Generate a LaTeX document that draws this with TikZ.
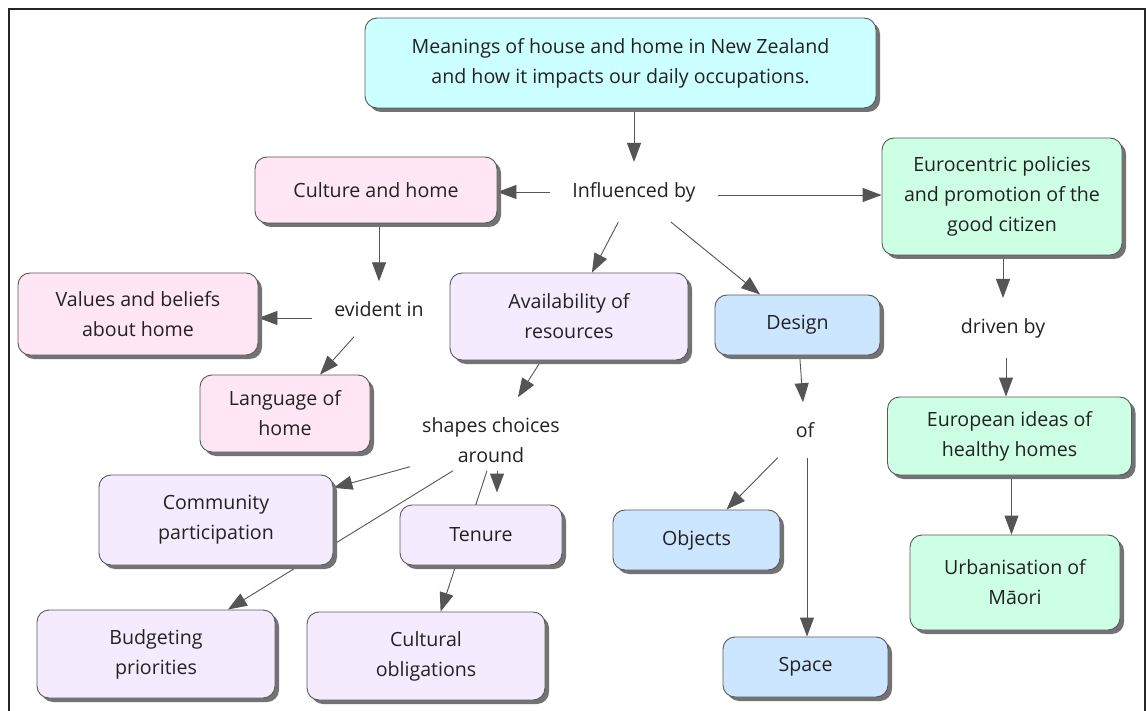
\documentclass[tikz,border=0pt]{standalone}
\usepackage{fontspec}
\setmainfont{Open Sans}
\usetikzlibrary{arrows.meta,shadows,calc}
\pgfdeclarelayer{paper}
\pgfdeclarelayer{background}
\pgfsetlayers{paper,background,main}
\definecolor{cyanbox}{HTML}{CCFFFF}
\definecolor{pinkbox}{HTML}{FFE6F4}
\definecolor{lavbox}{HTML}{F4ECFE}
\definecolor{bluebox}{HTML}{CCE6FF}
\definecolor{greenbox}{HTML}{CCFFE4}
\definecolor{txt}{HTML}{222222}
\definecolor{linec}{HTML}{555555}
\tikzset{
  box/.style={draw=black!65, line width=0.9pt, rounded corners=12pt, align=center,
    inner sep=0pt, font=\fontsize{19.6}{30}\selectfont, text=txt,
    drop shadow={shadow xshift=4pt, shadow yshift=-4pt, fill=black!55, opacity=1}},
  lbl/.style={align=center, inner xsep=22pt, inner ysep=20pt,
    font=\fontsize{19.6}{30}\selectfont, text=txt},
  con/.style={draw=linec, line width=0.9pt, -{Triangle[length=19pt,width=14pt]}},
}
\begin{document}
\begin{tikzpicture}[x=1pt,y=-1pt]
\useasboundingbox (0,0) rectangle (1146,711);
\begin{pgfonlayer}{paper}
\fill[white] (0,0) rectangle (1146,711);
\draw[line width=1.6pt, black!85] (9,711) -- (9,9) -- (1145,9) -- (1145,711);
\end{pgfonlayer}

% concept boxes
\node[box, fill=cyanbox, minimum width=511pt, minimum height=90pt] (top) at (620.5,63)
  {Meanings of house and home in New Zealand\\and how it impacts our daily occupations.};
\node[box, fill=pinkbox, minimum width=242pt, minimum height=66pt] (culture) at (376,190) {Culture and home};
\node[box, fill=greenbox, minimum width=240pt, minimum height=117pt] (euro) at (1002,196.5)
  {Eurocentric policies\\and promotion of the\\good citizen};
\node[box, fill=pinkbox, minimum width=240pt, minimum height=82pt] (values) at (138,314) {Values and beliefs\\about home};
\node[box, fill=pinkbox, minimum width=170pt, minimum height=77pt] (language) at (285,413.5) {Language of\\home};
\node[box, fill=lavbox, minimum width=238pt, minimum height=87pt] (avail) at (569,316.5) {Availability of\\resources};
\node[box, fill=bluebox, minimum width=165pt, minimum height=60pt] (design) at (797.5,325) {Design};
\node[box, fill=greenbox, minimum width=244pt, minimum height=78pt] (european) at (1009.5,436) {European ideas of\\healthy homes};
\node[box, fill=greenbox, minimum width=210pt, minimum height=95pt] (urban) at (1015,582.5) {Urbanisation of\\Māori};
\node[box, fill=lavbox, minimum width=234pt, minimum height=90pt] (community) at (216,520) {Community\\participation};
\node[box, fill=lavbox, minimum width=162pt, minimum height=60pt] (tenure) at (481,535) {Tenure};
\node[box, fill=bluebox, minimum width=167pt, minimum height=60pt] (objects) at (696.5,540) {Objects};
\node[box, fill=lavbox, minimum width=238pt, minimum height=88pt] (budget) at (156,654) {Budgeting\\priorities};
\node[box, fill=lavbox, minimum width=238pt, minimum height=88pt] (cultural) at (426,656) {Cultural\\obligations};
\node[box, fill=bluebox, minimum width=165pt, minimum height=60pt] (space) at (805.5,667) {Space};

% linking phrases
\node[lbl] (infl) at (634,192) {Influenced by};
\node[lbl] (evident) at (379,309) {evident in};
\node[lbl] (shapes) at (491,440) {shapes choices\\around};
\node[lbl] (of) at (805,430) {of};
\node[lbl] (driven) at (1003,328) {driven by};

\begin{pgfonlayer}{background}
\draw[con] (infl.north |- top.south) -- (infl.north);
\draw[con] (infl.west) -- (infl.west -| culture.east);
\draw[con] ([yshift=-3pt]infl.east) -- ([yshift=-3pt]infl.east -| euro.west);
\draw[con] (infl) -- (avail);
\draw[con] (infl) -- (design);
\draw[con] (evident.north |- culture.south) -- (evident.north);
\draw[con] ([yshift=-9pt]evident.west) -- ([yshift=-9pt]evident.west -| values.east);
\draw[con] (evident) -- (language);
\draw[con] (avail) -- (shapes);
\draw[con] ([shift={(-81pt,16pt)}]shapes.south) -- (community);
\draw[con] ([shift={(6pt,12pt)}]shapes.south) -- ([shift={(6pt,12pt)}]shapes.south |- tenure.north);
\draw[con] ([shift={(-38pt,12pt)}]shapes.south) -- (budget);
\draw[con] ([shift={(-4pt,12pt)}]shapes.south) -- (cultural);
\draw[con] (design) -- (of);
\draw[con] (of) -- (objects);
\draw[con] ([xshift=2pt]of.south) -- ([xshift=2pt]of.south |- space.north);
\draw[con] (driven.north |- euro.south) -- (driven.north);
\draw[con] ([xshift=3pt]driven.south) -- ([xshift=3pt]driven.south |- european.north);
\draw[con] ([xshift=2pt]european.south) -- ([xshift=2pt]european.south |- urban.north);
\end{pgfonlayer}
\end{tikzpicture}
\end{document}
